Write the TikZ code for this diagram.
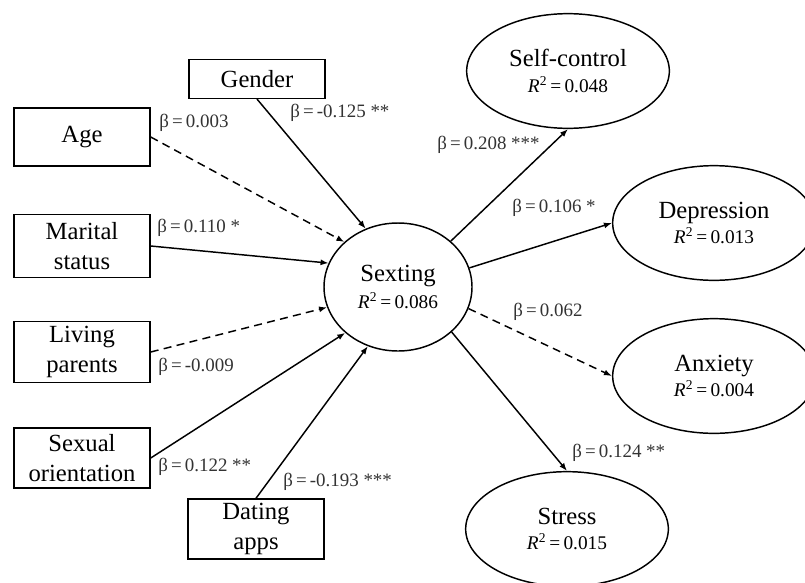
\documentclass[tikz,border=0pt]{standalone}
\usepackage{fontspec}
\setmainfont{Liberation Serif}
\usetikzlibrary{shapes.geometric,arrows.meta}

\newcommand{\rsq}[1]{{\fontsize{14.5}{16}\selectfont\textit{R}\textsuperscript{2}\,=\,#1}}

\begin{document}
\begin{tikzpicture}[x=0.75pt,y=-0.75pt,
        >={Latex[length=6pt,width=4.5pt]},
        every node/.style={font=\fontsize{18.5}{22}\selectfont},
        var/.style={draw,line width=1.1pt,minimum width=102pt,align=center,inner sep=2pt},
        lat/.style={draw,ellipse,line width=1.1pt,minimum width=152pt,minimum height=86pt,align=center,inner sep=0pt},
        coef/.style={anchor=west,inner sep=0pt,font=\fontsize{14.2}{16}\selectfont,text=black!80},
        eff/.style={->,line width=1.1pt},
        ns/.style={eff,dash pattern=on 6pt off 4pt}]
        \clip (0,0) rectangle (805,582);
        % observed variables
        \node[var,minimum height=29pt] (gender) at (257,79) {Gender};
        \node[var,minimum height=43.5pt] (age) at (82,137) {Age};
        \node[var,minimum height=47pt] (marital) at (82,246) {Marital\\status};
        \node[var,minimum height=46pt] (living) at (82,352) {Living\\parents};
        \node[var,minimum height=45pt] (sexual) at (82,458) {Sexual\\orientation};
        \node[var,minimum height=45pt] (dating) at (256,529) {Dating\\apps};
        % latent variables
        \node[lat,minimum width=111pt,minimum height=96pt] (sexting) at (398,287) {Sexting\\[-2pt]\rsq{0.086}};
        \node[lat] (selfctrl) at (568,71) {Self-control\\[-3pt]\rsq{0.048}};
        \node[lat] (depression) at (714,223) {Depression\\[-3pt]\rsq{0.013}};
        \node[lat] (anxiety) at (714,376) {Anxiety\\[-3pt]\rsq{0.004}};
        \node[lat] (stress) at (567,529) {Stress\\[-3pt]\rsq{0.015}};
        % paths
        \draw[eff] (gender.south) -- (sexting.119);
        \draw[ns] (age.east) -- (sexting.140);
        \draw[eff] (marital.east) -- (sexting.161);
        \draw[ns] (living.east) -- (sexting.196);
        \draw[eff] (sexual.east) -- (sexting.221);
        \draw[eff] (dating.north) -- (sexting.243);
        \draw[eff] (sexting.41) -- (selfctrl.south);
        \draw[eff] (sexting.15) -- (depression.west);
        \draw[ns] (sexting.343) -- (anxiety.west);
        \draw[eff] (sexting.320) -- (stress.north);
        % coefficients
        \node[coef] (bgender) at (290,113) {β\,=\,-0.125~**};
        \node[coef] (bage) at (159,123) {β\,=\,0.003};
        \node[coef] (bmarital) at (157,228) {β\,=\,0.110~*};
        \node[coef] (bliving) at (158,367) {β\,=\,-0.009};
        \node[coef] (bsexual) at (158,467) {β\,=\,0.122~**};
        \node[coef] (bdating) at (283,482) {β\,=\,-0.193~***};
        \node[coef] (bselfctrl) at (437,145) {β\,=\,0.208~***};
        \node[coef] (bdepression) at (512,208) {β\,=\,0.106~*};
        \node[coef] (banxiety) at (513,312) {β\,=\,0.062};
        \node[coef] (bstress) at (572,453) {β\,=\,0.124~**};
\end{tikzpicture}
\end{document}
